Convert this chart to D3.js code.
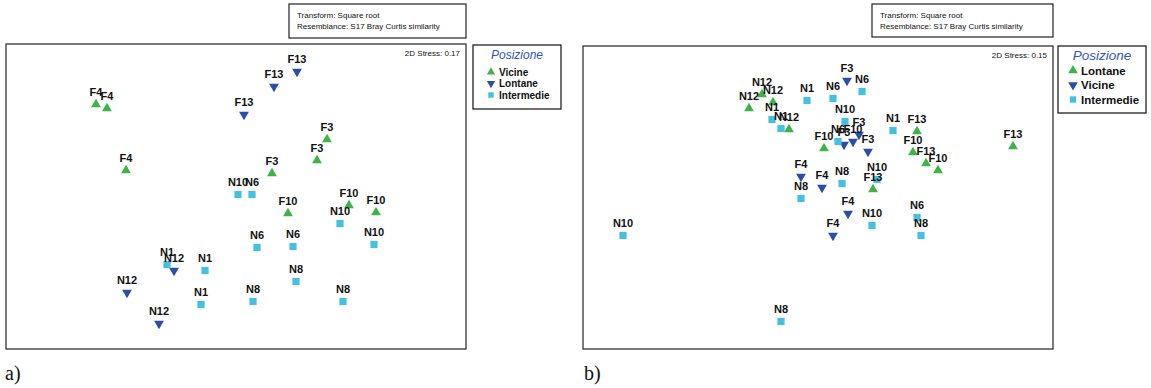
<!DOCTYPE html>
<html><head><meta charset="utf-8">
<script src="https://cdn.jsdelivr.net/npm/d3@7"></script>
<style>body{margin:0;background:#fff}svg{display:block}</style>
</head><body>
<svg id="c" width="1151" height="388"></svg>
<script>
// ---------- DATA (nMDS coordinates, arbitrary units) ----------
// Panel a)
const aLegend = ["Vicine", "Lontane", "Intermedie"];
const aLabels = ["F4","F4","F4","F3","F3","F3","F10","F10","F10",
                 "F13","F13","F13","N12","N12","N12",
                 "N10","N6","N10","N10","N6","N6","N1","N1","N1","N8","N8","N8"];
const aGroup  = [0,0,0,0,0,0,0,0,0, 1,1,1,1,1,1, 2,2,2,2,2,2,2,2,2,2,2,2];
const aX = [-1.40,-1.29,-1.10, 0.91, 0.81, 0.36, 0.52, 1.13, 1.40,
             0.61, 0.38, 0.08,-0.62,-1.09,-0.77,
             0.02, 0.16, 1.04, 1.38, 0.21, 0.57,-0.69,-0.31,-0.35, 0.60, 0.17, 1.07];
const aY = [ 0.92, 0.88, 0.26, 0.57, 0.36, 0.23,-0.17,-0.09,-0.16,
             1.25, 1.10, 0.82,-0.74,-0.96,-1.27,
             0.02, 0.02,-0.27,-0.48,-0.51,-0.50,-0.68,-0.74,-1.08,-0.85,-1.05,-1.05];
const aStress = "2D Stress: 0.17";

// Panel b)
const bLegend = ["Lontane", "Vicine", "Intermedie"];
const bLabels = ["N12","N12","N12","N12","F10","F13","F13","F10","F13","F10","F13",
                 "F3","F3","F10","F3","F3","F4","F4","F4","F4",
                 "N6","N1","N6","N1","N1","N10","N6","N1","N8","N8","N10","N10","N6","N8","N10","N8"];
const bGroup  = [0,0,0,0,0,0,0,0,0,0,0, 1,1,1,1,1,1,1,1,1, 2,2,2,2,2,2,2,2,2,2,2,2,2,2,2,2];
const bX = [-0.56,-0.45,-0.69,-0.29, 0.06, 0.99, 1.95, 0.95, 1.08, 1.20, 0.55,
             0.29, 0.26, 0.35, 0.41, 0.50,-0.17, 0.04, 0.30, 0.15,
             0.44,-0.11, 0.15,-0.46,-0.37, 0.27, 0.20, 0.75,-0.17, 0.24, 0.59, 0.54, 0.99, 1.03,-1.95,-0.37];
const bY = [ 1.03, 0.95, 0.89, 0.68, 0.49, 0.66, 0.51, 0.45, 0.34, 0.27, 0.08,
             1.17, 0.53, 0.56, 0.63, 0.46, 0.21, 0.10,-0.16,-0.38,
             1.06, 0.97, 0.99, 0.78, 0.69, 0.76, 0.56, 0.67,-0.01, 0.14, 0.18,-0.28,-0.20,-0.38,-0.38,-1.24];
const bStress = "2D Stress: 0.15";

const headerLines = ["Transform: Square root", "Resemblance: S17 Bray Curtis similarity"];
const legendTitle = "Posizione";

// ---------- STYLE ----------
const colors = ["#3fb34a", "#2b4fa6", "#45c0df"];
const svg = d3.select("#c");

function panel(cfg) {
  const g = svg.append("g");
  const x = d3.scaleLinear().domain(cfg.xDom).range([cfg.box.x0, cfg.box.x1]);
  const y = d3.scaleLinear().domain(cfg.yDom).range([cfg.box.y1, cfg.box.y0]);

  // header box
  g.append("rect").attr("x", cfg.head.x0).attr("y", cfg.head.y0)
    .attr("width", cfg.head.x1 - cfg.head.x0).attr("height", cfg.head.y1 - cfg.head.y0)
    .attr("fill", "#fff").attr("stroke", "#222").attr("stroke-width", 1.2);
  headerLines.forEach((t, i) => {
    g.append("text").attr("x", cfg.head.x0 + 8).attr("y", cfg.head.y0 + 14 + i * 11)
      .attr("font-family", "Liberation Sans, Arial, sans-serif").attr("font-size", cfg.headFs)
      .attr("fill", "#111").text(t);
  });

  // plot box
  g.append("rect").attr("x", cfg.box.x0).attr("y", cfg.box.y0)
    .attr("width", cfg.box.x1 - cfg.box.x0).attr("height", cfg.box.y1 - cfg.box.y0)
    .attr("fill", "#fff").attr("stroke", "#333").attr("stroke-width", 1.3);

  g.append("text").attr("x", cfg.box.x1 - 6).attr("y", cfg.box.y0 + 12)
    .attr("text-anchor", "end").attr("font-family", "Liberation Sans, Arial, sans-serif")
    .attr("font-size", cfg.headFs).attr("fill", "#111").text(cfg.stress);

  const sym = (gi) => d3.symbol().type(gi === 2 ? d3.symbolSquare : d3.symbolTriangle)
                        .size(gi === 2 ? 52 : 42)();

  const idx = d3.range(cfg.labels.length);
  // markers
  g.selectAll(null).data(idx).join("path")
    .attr("d", i => sym(cfg.group[i]))
    .attr("transform", i => `translate(${x(cfg.xs[i])},${y(cfg.ys[i])})` + (cfg.group[i] === 1 ? " rotate(180)" : ""))
    .attr("fill", i => colors[cfg.group[i]]);
  // labels
  g.selectAll(null).data(idx).join("text")
    .attr("x", i => x(cfg.xs[i])).attr("y", i => y(cfg.ys[i]) - 9)
    .attr("text-anchor", "middle").attr("font-family", "Liberation Sans, Arial, sans-serif")
    .attr("font-weight", "bold").attr("font-size", 11).attr("fill", "#111")
    .text(i => cfg.labels[i]);

  // legend
  const L = cfg.leg;
  g.append("rect").attr("x", L.x0).attr("y", L.y0).attr("width", L.x1 - L.x0).attr("height", L.y1 - L.y0)
    .attr("fill", "#fff").attr("stroke", "#222").attr("stroke-width", 1.3);
  g.append("text").attr("x", (L.x0 + L.x1) / 2).attr("y", L.y0 + L.titleDy)
    .attr("text-anchor", "middle").attr("font-family", "Liberation Sans, Arial, sans-serif")
    .attr("font-style", "italic").attr("font-size", L.titleFs).attr("fill", "#2f55c0").text(legendTitle);
  cfg.legend.forEach((name, gi) => {
    const yy = L.y0 + L.firstDy + gi * L.step;
    g.append("path").attr("d", d3.symbol().type(gi === 2 ? d3.symbolSquare : d3.symbolTriangle).size(L.symSize)())
      .attr("transform", `translate(${L.mx},${yy})` + (gi === 1 ? " rotate(180)" : ""))
      .attr("fill", colors[gi]);
    g.append("text").attr("x", L.mx + 8).attr("y", yy + L.itemFs * 0.36)
      .attr("font-family", "Liberation Sans, Arial, sans-serif").attr("font-weight", "bold")
      .attr("font-size", L.itemFs).attr("fill", "#111").text(name);
  });

  g.append("text").attr("x", cfg.tag.x).attr("y", cfg.tag.y)
    .attr("font-family", "Liberation Serif, Times New Roman, serif").attr("font-size", 20)
    .attr("fill", "#111").text(cfg.tag.t);
}

panel({
  labels: aLabels, group: aGroup, xs: aX, ys: aY, legend: aLegend, stress: aStress,
  xDom: [-2.3, 2.3], yDom: [-1.525, 1.525],
  box: {x0: 6, x1: 466, y0: 44, y1: 349},
  head: {x0: 289, x1: 466, y0: 4, y1: 38}, headFs: 8,
  leg: {x0: 473, x1: 561, y0: 45, y1: 109, titleDy: 14, titleFs: 12, firstDy: 27, step: 11.5,
        mx: 491, itemFs: 10, symSize: 30},
  tag: {x: 5, y: 380, t: "a)"}
});

panel({
  labels: bLabels, group: bGroup, xs: bX, ys: bY, legend: bLegend, stress: bStress,
  xDom: [-2.35, 2.35], yDom: [-1.515, 1.515],
  box: {x0: 583, x1: 1053, y0: 46, y1: 349},
  head: {x0: 872, x1: 1053, y0: 4, y1: 37}, headFs: 8,
  leg: {x0: 1058, x1: 1146, y0: 46, y1: 113, titleDy: 14, titleFs: 13.5, firstDy: 24.5, step: 14.5,
        mx: 1073, itemFs: 11.5, symSize: 40},
  tag: {x: 584, y: 380, t: "b)"}
});
</script>
</body></html>
